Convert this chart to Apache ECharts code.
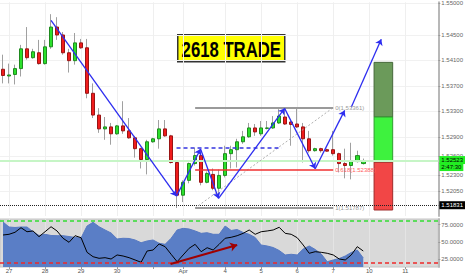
<!DOCTYPE html>
<html><head><meta charset="utf-8">
<script src="https://cdn.jsdelivr.net/npm/echarts@6/dist/echarts.min.js"></script>
<style>html,body{margin:0;padding:0;background:#fff}#c{width:466px;height:275px}</style>
</head><body><div id="c"></div>
<script>
// ---- candle data (4h bars) ----
const candleOpen  = [1.53962,1.53856,1.53880,1.53972,1.54282,1.54143,1.54220,1.54050,1.54313,1.54623,1.54499,1.54220,1.54096,1.54375,1.54298,1.53585,1.53244,1.53027,1.53058,1.52950,1.53074,1.52996,1.52887,1.52717,1.52546,1.52825,1.52872,1.53027,1.52918,1.52500,1.51988,1.52221,1.52484,1.52608,1.52190,1.52314,1.52097,1.52298,1.52639,1.52701,1.52825,1.52903,1.53042,1.52950,1.53035,1.53042,1.53120,1.53213,1.53135,1.53104,1.53058,1.52872,1.52686,1.52717,1.52701,1.52701,1.52639,1.52484,1.52453,1.52515,1.52484];
const candleClose = [1.53864,1.53872,1.53972,1.54282,1.54143,1.54236,1.54050,1.54313,1.54623,1.54499,1.54220,1.54096,1.54375,1.54298,1.53585,1.53244,1.53027,1.53058,1.52950,1.53074,1.52996,1.52887,1.52717,1.52546,1.52825,1.52872,1.53027,1.52918,1.52500,1.51988,1.52190,1.52484,1.52608,1.52190,1.52329,1.52097,1.52298,1.52639,1.52701,1.52825,1.52903,1.53042,1.52980,1.53042,1.53042,1.53120,1.53228,1.53104,1.53097,1.53058,1.52872,1.52686,1.52717,1.52686,1.52678,1.52639,1.52484,1.52453,1.52515,1.52608,1.52523];
const candleLow   = [1.53740,1.53740,1.53724,1.53848,1.54112,1.54127,1.54034,1.54034,1.54282,1.54422,1.54190,1.53910,1.54034,1.54282,1.53507,1.53197,1.52965,1.52856,1.52779,1.52934,1.52950,1.52872,1.52577,1.52407,1.52314,1.52810,1.52717,1.52903,1.52484,1.51787,1.51880,1.52174,1.52453,1.52143,1.52174,1.52066,1.51957,1.52267,1.52407,1.52422,1.52794,1.52887,1.52918,1.52918,1.53019,1.53027,1.53104,1.53089,1.52763,1.53042,1.52500,1.52655,1.52670,1.52655,1.52670,1.52608,1.52345,1.52252,1.52236,1.52500,1.52468];
const candleHigh  = [1.54190,1.54050,1.54034,1.54344,1.54623,1.54282,1.54422,1.54422,1.54825,1.54778,1.54546,1.54282,1.54530,1.54437,1.54437,1.53740,1.53352,1.53213,1.53120,1.53089,1.53461,1.53197,1.52918,1.52732,1.52856,1.52887,1.53166,1.53166,1.52934,1.52515,1.52221,1.52500,1.52732,1.52655,1.52360,1.52407,1.52391,1.52763,1.52763,1.52872,1.52996,1.53120,1.53104,1.53151,1.53151,1.53228,1.53337,1.53361,1.53150,1.53340,1.53120,1.52996,1.52732,1.52732,1.52717,1.52996,1.52655,1.52717,1.52810,1.52686,1.52562];

// ---- indicator data ----
const oscLine = [60.0,61.0,63.9,70.5,64.7,65.8,57.6,64.7,71.9,65.8,55.3,49.5,59.0,56.1,35.1,28.8,26.5,27.4,25.5,31.3,29.8,27.4,24.1,20.8,37.0,38.4,47.1,43.2,32.3,21.6,31.3,40.9,46.6,36.0,41.7,38.4,46.6,55.3,56.7,59.0,62.4,67.2,61.0,64.7,65.8,67.2,71.1,62.4,61.0,56.1,45.6,33.7,36.0,35.1,33.7,31.3,25.5,24.1,31.3,43.2,37.0];
const oscArea = [78.7,71.5,70.8,71.5,71.5,64.7,59.3,61.0,59.3,59.0,59.0,57.8,56.4,55.7,72.9,78.3,71.9,67.2,62.9,54.3,55.3,55.0,52.8,48.9,51.4,52.8,48.1,46.6,55.3,67.2,69.6,68.6,65.8,62.4,63.3,61.0,61.0,72.9,66.5,67.9,63.6,61.0,56.4,45.6,44.2,42.0,37.7,31.3,32.3,31.3,39.9,44.2,39.2,32.7,21.6,24.1,26.2,29.8,34.8,38.4,27.0];
const oscUpper = 80, oscLower = 20;
const oscTicks = [25, 50, 75];
const oscArrow = [[27.9, 18.3], [39.0, 45.6]];

// ---- axes ----
const slotCount = 73;
const gridDays  = [1, 7, 13, 19, 25, 30, 37, 43, 49, 55, 61, 67];
const labelDays = [1, 7, 13, 19, 30, 37, 43, 49, 55, 61, 67];
const dayLabels = ['27', '28', '29', '30', 'Apr', '4', '5', '6', '7', '10', '11'];
const priceTicks = [1.5205, 1.523, 1.526, 1.529, 1.533, 1.537, 1.541, 1.545, 1.55];

// ---- drawings ----
const zigzag = [[8.0,1.54727],[28.9,1.51973],[32.9,1.52712],[35.9,1.51937],[46.9,1.53348],[52.0,1.52402],[56.9,1.53317]];
const projection = [[58.0,1.53368],[63.0,1.54433]];
const fibRatios = ['0', '0.618', '1'];
const fibPrices = [1.53361, 1.52388, 1.51787];
const fibFrom = 32, fibTo = 55;
const breakLine = [[28.9, 1.52732], [46.4, 1.52732]];
const positionX = [61.8, 64.9];
const positionLevels = [1.54070, 1.53213, 1.52505, 1.51756];
const lastPrice = 1.52523;
const countdown = '2:47:30';
const markedLevel = 1.51831;
const titleText = '2618 TRADE';

const chart = echarts.init(document.getElementById('c'), null, {renderer: 'svg'});
const font = 'Liberation Sans';
const blue = '#2d2df0';

const wickData = candleOpen.map((o, i) => [o, candleClose[i], candleLow[i], candleHigh[i]]);
const bodyData = candleOpen.map((o, i) => [o, candleClose[i], Math.min(o, candleClose[i]), Math.max(o, candleClose[i])]);

const zigLines = [];
for (let i = 0; i < zigzag.length - 1; i++) {
  zigLines.push([{coord: zigzag[i], symbol: 'none'}, {coord: zigzag[i + 1], symbol: 'arrow', symbolSize: 6}]);
}
zigLines.push([{coord: projection[0], symbol: 'none'}, {coord: projection[1], symbol: 'arrow', symbolSize: 6}]);
zigLines.forEach(l => { l[0].lineStyle = {color: blue, width: 1.3, type: 'solid'}; });

const fibLines = fibPrices.map((p, k) => {
  const col = fibRatios[k] === '0.618' ? '#f03030' : '#9a9a9a';
  const txt = fibRatios[k] === '0.618' ? '#ff6060' : '#9a9a9a';
  return [{coord: [fibFrom, p], symbol: 'none',
           lineStyle: {color: col, width: k === 1 ? 1.5 : 2, type: 'solid'},
           label: {show: true, position: 'end', formatter: fibRatios[k] + '(' + p.toFixed(5) + ')', fontSize: 6, color: txt, fontFamily: font, distance: 2}},
          {coord: [fibTo, p], symbol: 'none'}];
});
const trendLine = [{coord: [fibFrom, fibPrices[2]], symbol: 'none', lineStyle: {color: '#b0b0b0', width: 1, type: [2, 2]}, label: {show: false}},
                   {coord: [fibTo, fibPrices[0]], symbol: 'none'}];
const dashLine = [{coord: breakLine[0], symbol: 'none', lineStyle: {color: '#3434e0', width: 1.5, type: [4, 3]}, label: {show: false}},
                  {coord: breakLine[1], symbol: 'none'}];

const priceLines = [
  {yAxis: lastPrice, symbol: 'none', lineStyle: {color: '#c6f5c6', width: 2, type: 'solid'},
   label: {show: true, position: 'end', distance: 1, padding: [5, 0, 0, 0],
           formatter: '{a|' + lastPrice.toFixed(5) + '}\n{b|' + countdown + '}',
           rich: {a: {backgroundColor: '#22ee22', color: '#000', fontSize: 6, padding: [1, 2], fontFamily: font, lineHeight: 7},
                  b: {backgroundColor: '#22ee22', color: '#000', fontSize: 6, padding: [1, 2], fontFamily: font, lineHeight: 7}}}},
  {yAxis: markedLevel, symbol: 'none', lineStyle: {color: '#222', width: 1.2, type: [1, 1]},
   label: {show: true, position: 'end', distance: 1, formatter: markedLevel.toFixed(5), backgroundColor: '#000', color: '#fff', fontSize: 6, padding: [1, 2], fontFamily: font}}
];

const boxColors = [['#6b9a5a', '#46683a'], ['#3ef23e', '#2f9f2f'], ['#f24646', '#a02a2a']];
const boxes = boxColors.map((c, k) => [
  {coord: [positionX[0], positionLevels[k]], itemStyle: {color: c[0], borderColor: c[1], borderWidth: 1}},
  {coord: [positionX[1], positionLevels[k + 1]]}
]);

const option = {
  animation: false,
  backgroundColor: '#ffffff',
  textStyle: {fontFamily: font},
  grid: [
    {left: 0, top: 0, width: 445, height: 216},
    {left: 0, top: 219, width: 445, height: 48, show: true, backgroundColor: '#d9d9d9', borderColor: '#c4c4c4', borderWidth: 1}
  ],
  xAxis: [
    {type: 'category', gridIndex: 0, data: Array.from({length: slotCount}, (_, i) => String(i)), boundaryGap: true, show: false},
    {type: 'value', gridIndex: 0, min: -0.5, max: slotCount - 0.5, axisLine: {show: false},
     axisTick: {show: false, customValues: gridDays}, axisLabel: {show: false},
     splitLine: {show: true, lineStyle: {color: '#efefef', width: 1}}},
    {type: 'value', gridIndex: 1, min: -0.5, max: slotCount - 0.5, axisLine: {show: false},
     axisTick: {show: true, customValues: gridDays, length: 2, lineStyle: {color: '#999'}},
     axisLabel: {customValues: labelDays, formatter: v => dayLabels[labelDays.indexOf(Math.round(v))] || '', fontSize: 6, color: '#555', margin: 1, fontFamily: font},
     splitLine: {show: true, lineStyle: {color: '#e4e4e4', width: 1}}}
  ],
  yAxis: [
    {type: 'value', gridIndex: 0, position: 'right', min: 1.51662, max: 1.55011, scale: true,
     axisLine: {show: true, onZero: false, lineStyle: {color: '#b8b8b8', width: 2}},
     axisTick: {show: true, customValues: priceTicks, length: 2, lineStyle: {color: '#999'}},
     axisLabel: {customValues: priceTicks, formatter: v => v.toFixed(5), fontSize: 6, color: '#666', margin: 3, fontFamily: font},
     splitLine: {show: true, lineStyle: {color: '#f1f1f1', width: 1}}},
    {type: 'value', gridIndex: 1, position: 'right', min: 14, max: 83,
     axisLine: {show: true, onZero: false, lineStyle: {color: '#b8b8b8', width: 2}},
     axisTick: {show: true, customValues: oscTicks, length: 2, lineStyle: {color: '#999'}},
     axisLabel: {customValues: oscTicks, formatter: v => v.toFixed(4), fontSize: 6, color: '#666', margin: 3, fontFamily: font},
     splitLine: {show: false}}
  ],
  graphic: [{
    type: 'group', left: 177, top: 34, z: 100,
    children: [
      {type: 'rect', shape: {x: 0, y: 0, width: 107, height: 27}, style: {fill: '#ffff00', stroke: '#333', lineWidth: 1.5}},
      {type: 'text', x: 53.5, y: 14, scaleX: 0.76, style: {text: titleText, font: 'bold 22px "Liberation Sans", Arial, sans-serif', fill: '#000', align: 'center', verticalAlign: 'middle'}}
    ]
  }],
  series: [
    {type: 'line', name: 'levels', xAxisIndex: 1, yAxisIndex: 0, data: [], z: 1,
     markLine: {silent: true, animation: false, symbol: 'none', precision: 6, data: priceLines}},
    {type: 'candlestick', name: 'wick', xAxisIndex: 0, yAxisIndex: 0, data: wickData, barWidth: 1, z: 2,
     itemStyle: {color: '#a0a0a0', color0: '#a0a0a0', borderColor: '#a0a0a0', borderColor0: '#a0a0a0', borderWidth: 1}},
    {type: 'candlestick', name: 'body', xAxisIndex: 0, yAxisIndex: 0, data: bodyData, barWidth: 4, z: 3,
     itemStyle: {color: '#2be02b', color0: '#f01c1c', borderColor: '#1f8a1f', borderColor0: '#9a1414', borderWidth: 1}},
    {type: 'line', name: 'drawings', xAxisIndex: 1, yAxisIndex: 0, data: [], z: 5,
     markLine: {silent: true, animation: false, symbol: 'none', precision: 6, label: {show: false},
       data: [trendLine, dashLine].concat(fibLines).concat(zigLines)},
     markArea: {silent: true, data: boxes}},
    {type: 'line', name: 'area', xAxisIndex: 2, yAxisIndex: 1, data: oscArea.map((v, i) => [i, v]), symbol: 'none',
     lineStyle: {color: '#5779c2', width: 1}, areaStyle: {color: '#5a7ec6', opacity: 1}},
    {type: 'line', name: 'osc', xAxisIndex: 2, yAxisIndex: 1, data: oscLine.map((v, i) => [i, v]), symbol: 'none',
     lineStyle: {color: '#000', width: 1}, z: 4,
     markLine: {silent: true, animation: false, symbol: 'none', precision: 4, label: {show: false},
       data: [
         {yAxis: oscUpper, lineStyle: {color: '#33dd33', width: 1.5, type: [4, 3]}},
         {yAxis: oscLower, lineStyle: {color: '#ee2a2a', width: 1.5, type: [4, 3]}},
         [{coord: oscArrow[0], symbol: 'none', lineStyle: {color: '#a00000', width: 2, type: 'solid'}},
          {coord: oscArrow[1], symbol: 'arrow', symbolSize: 7}]
       ]}}
  ]
};
chart.setOption(option);
</script>
</body></html>
